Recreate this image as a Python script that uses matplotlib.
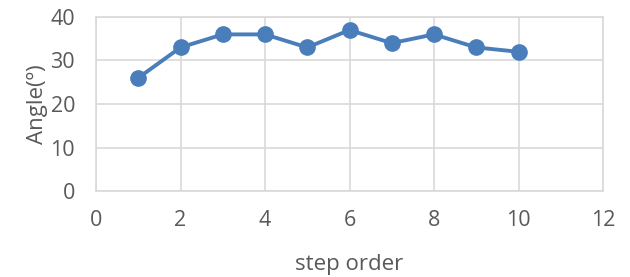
import matplotlib
matplotlib.use("Agg")
import matplotlib.pyplot as plt

steps = [1, 2, 3, 4, 5, 6, 7, 8, 9, 10]
angles = [26, 33, 36, 36, 33, 37, 34, 36, 33, 32]
xticks = [0, 2, 4, 6, 8, 10, 12]
yticks = [0, 10, 20, 30, 40]

plt.rcParams['font.family'] = ['Open Sans', 'DejaVu Sans']

fig = plt.figure(figsize=(6.3, 2.77), dpi=100)
ax = fig.add_axes([96/630, 1 - 191/277, (603-96)/630, (191-17)/277])

ax.plot(steps, angles, color='#4a7ebb', linewidth=2.8, marker='o', markersize=11, zorder=3, clip_on=False)

ax.set_xlim(0, 12)
ax.set_ylim(0, 40)
ax.set_xticks(xticks)
ax.set_yticks(yticks)
ax.grid(True, color='#d9d9d9', linewidth=1.2)
for s in ax.spines.values():
    s.set_color('#d9d9d9')
    s.set_linewidth(1.2)
ax.tick_params(length=0, labelsize=15.5, colors='#595959')
ax.tick_params(axis='x', pad=14)
ax.tick_params(axis='y', pad=15)
ax.set_xlabel('step order', fontsize=16, color='#595959', labelpad=16)
ax.set_ylabel('Angle(º)', fontsize=16, color='#595959', labelpad=2)

fig.savefig('out.png', dpi=100)
